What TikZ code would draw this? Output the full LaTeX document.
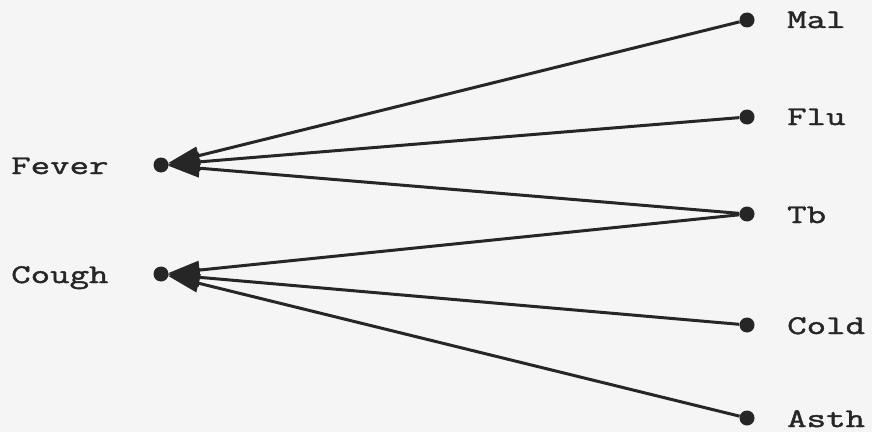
\documentclass[tikz,border=0pt]{standalone}
\usepackage{fontspec}
\setmonofont[FakeStretch=1.4,FakeBold=1.6]{Latin Modern Mono}
\usetikzlibrary{arrows.meta}
\begin{document}
\begin{tikzpicture}[x=1pt,y=1pt,
  dotnode/.style={circle,fill=black!85,inner sep=0pt,minimum size=15pt},
  lbl/.style={anchor=base west,inner sep=0pt,font=\ttfamily\fontsize{27}{27}\selectfont,text=black!85},
  edge/.style={line width=3pt,draw=black!85,-{Triangle[length=32pt,width=18pt]},shorten >=-1pt}]
\fill[black!4] (0,0) rectangle (872,432);
\useasboundingbox (0,0) rectangle (872,432);
% left dots
\node[dotnode] (fever) at (161,267) {};
\node[dotnode] (cough) at (161,158) {};
% right dots
\node[dotnode] (mal)  at (747,412) {};
\node[dotnode] (flu)  at (747,315) {};
\node[dotnode] (tb)   at (747,218) {};
\node[dotnode] (cold) at (747,107) {};
\node[dotnode] (asth) at (747,14) {};
% labels
\node[lbl] (lfever) at (11,258) {Fever};
\node[lbl] (lcough) at (11,149) {Cough};
\node[lbl] (lmal)   at (787,404) {Mal};
\node[lbl] (lflu)   at (787,307) {Flu};
\node[lbl] (ltb)    at (787,209) {Tb};
\node[lbl] (lcold)  at (787,98) {Cold};
\node[lbl] (lasth)  at (787,5) {Asth};
% edges
\draw[edge] (mal) -- (fever);
\draw[edge] (flu) -- (fever);
\draw[edge] (tb) -- (fever);
\draw[edge] (tb) -- (cough);
\draw[edge] (cold) -- (cough);
\draw[edge] (asth) -- (cough);
\end{tikzpicture}
\end{document}
